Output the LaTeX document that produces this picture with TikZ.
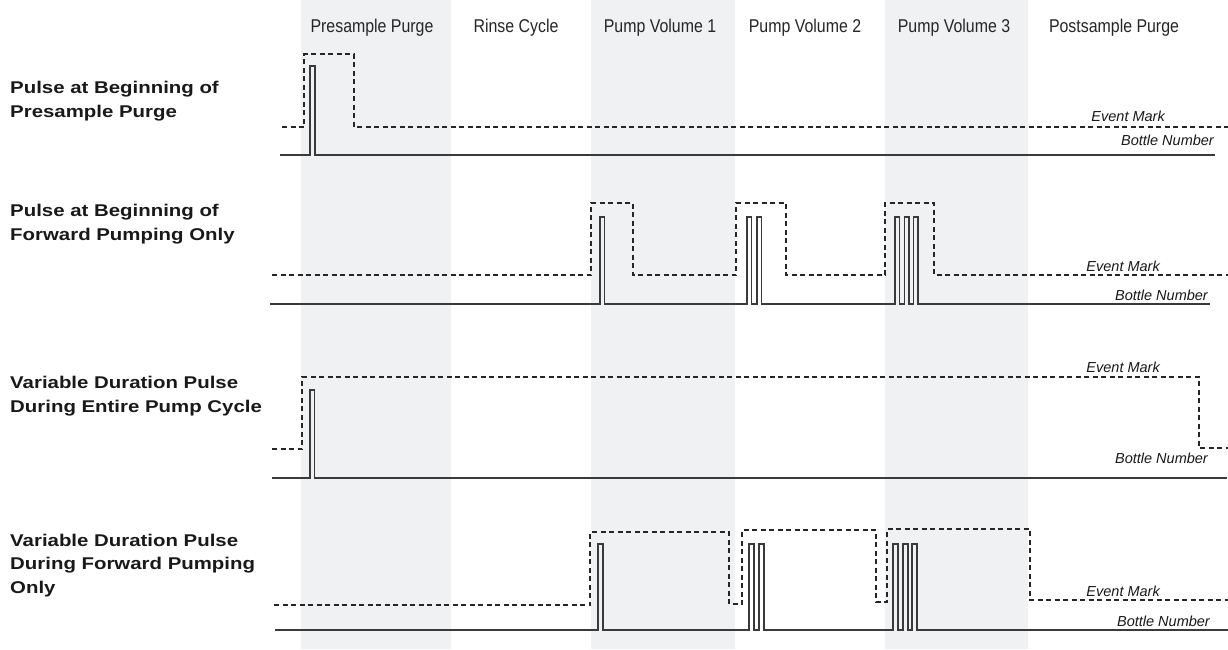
\documentclass[tikz,border=0pt]{standalone}
\usepackage{fontspec}
\setmainfont{Liberation Sans}

\definecolor{bandgray}{HTML}{F0F1F3}
\definecolor{sigline}{HTML}{3A3A3A}

\tikzset{
    band/.style={fill=bandgray, draw=none},
    evline/.style={line width=1.3pt, dash pattern=on 5pt off 3.5pt, black!85},
    botline/.style={line width=1.1pt, sigline, line join=miter},
    colhead/.style={font=\fontsize{18.5}{22}\selectfont, anchor=base,
        xscale=0.86, transform shape, inner sep=0pt, text=black!85},
    rowlabel/.style={font=\fontsize{17}{23.5}\selectfont\bfseries, align=left,
        anchor=base west, xscale=1.2, transform shape, inner sep=0pt, text=black!90},
    siglabel/.style={font=\fontsize{14.5}{16}\selectfont\itshape,
        anchor=base east, inner sep=0pt, text=black!90},
}

\begin{document}
\begin{tikzpicture}[x=1pt, y=-1pt]
    \useasboundingbox (0,0) rectangle (1228,649);
    \fill[white] (0,0) rectangle (1228,649);

    % shaded phases
    \foreach \l/\r in {301/451, 591/735, 885/1028}
        \fill[band] (\l,0) rectangle (\r,649);

    \node[colhead] (hpre)  at (372,32)  {Presample Purge};
    \node[colhead] (hrin)  at (516,32)  {Rinse Cycle};
    \node[colhead] (hpv1)  at (660,32)  {Pump Volume 1};
    \node[colhead] (hpv2)  at (805,32)  {Pump Volume 2};
    \node[colhead] (hpv3)  at (954,32)  {Pump Volume 3};
    \node[colhead] (hpost) at (1114,32) {Postsample Purge};

    % base anchor sits on the last line
    \node[rowlabel] (lab1) at (10,117) {Pulse at Beginning of\\Presample Purge};
    \node[rowlabel] (lab2) at (10,240) {Pulse at Beginning of\\Forward Pumping Only};
    \node[rowlabel] (lab3) at (10,412) {Variable Duration Pulse\\During Entire Pump Cycle};
    \node[rowlabel] (lab4) at (10,593) {Variable Duration Pulse\\During Forward Pumping\\Only};

    % row 1
    \draw[evline] (282,127) -- (304,127) -- (304,54) -- (354,54) -- (354,127) -- (1228,127);
    \draw[botline] (280,155)
        foreach \p in {310} {-- (\p,155) -- (\p,66) -- ({\p+5},66) -- ({\p+5},155)}
        -- (1215,155);
    \node[siglabel] (ev1) at (1165,121) {Event Mark};
    \node[siglabel] (bn1) at (1214,145) {Bottle Number};

    % row 2
    \draw[evline] (272,275) -- (591,275) -- (591,203) -- (633,203) -- (633,275)
        -- (736,275) -- (736,203) -- (786,203) -- (786,275)
        -- (885,275) -- (885,203) -- (934,203) -- (934,275) -- (1228,275);
    \draw[botline] (270,304)
        foreach \p in {600,747,757,895,904.5,913.5} {-- (\p,304) -- (\p,217) -- ({\p+4.5},217) -- ({\p+4.5},304)}
        -- (1210,304);
    \node[siglabel] (ev2) at (1160,271) {Event Mark};
    \node[siglabel] (bn2) at (1208,300) {Bottle Number};

    % row 3
    \draw[evline] (272,449) -- (302,449) -- (302,377) -- (1199,377) -- (1199,448) -- (1228,448);
    \draw[botline] (272,478)
        foreach \p in {310} {-- (\p,478) -- (\p,390) -- ({\p+4.5},390) -- ({\p+4.5},478)}
        -- (1227,478);
    \node[siglabel] (ev3) at (1160,372) {Event Mark};
    \node[siglabel] (bn3) at (1208,463) {Bottle Number};

    % row 4
    \draw[evline] (274,605) -- (590,605) -- (590,532) -- (729,532) -- (729,604)
        -- (742,604) -- (742,530) -- (876,530) -- (876,602)
        -- (887,602) -- (887,529) -- (1030,529) -- (1030,600) -- (1228,600);
    \draw[botline] (275,630)
        foreach \p in {598,749,759,893,903,912} {-- (\p,630) -- (\p,544) -- ({\p+5},544) -- ({\p+5},630)}
        -- (1228,630);
    \node[siglabel] (ev4) at (1160,596) {Event Mark};
    \node[siglabel] (bn4) at (1210,626) {Bottle Number};
\end{tikzpicture}
\end{document}
